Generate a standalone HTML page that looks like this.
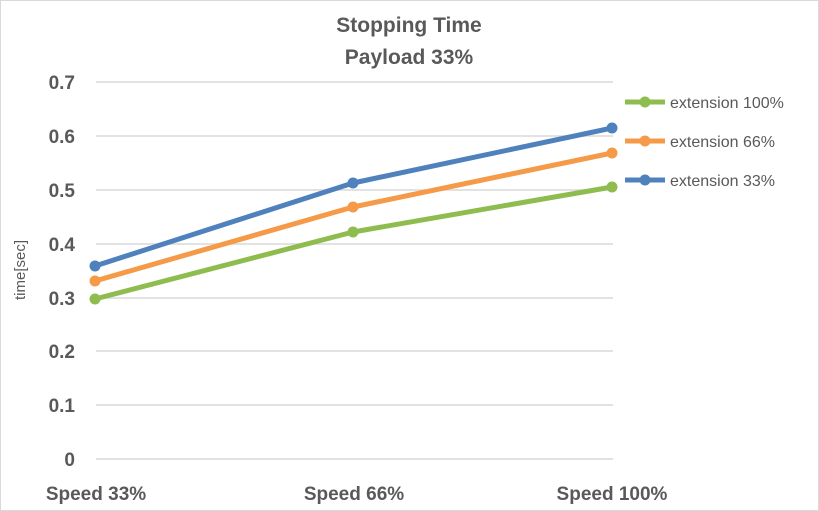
<!DOCTYPE html>
<html><head><style>
html,body{margin:0;padding:0;background:#fff}
svg{display:block}
text{font-family:"Liberation Sans",sans-serif}
</style></head><body>
<svg width="819" height="511" viewBox="0 0 819 511">
<rect x="0.5" y="0.5" width="818" height="510" fill="#fff" stroke="#d9d9d9"/>
<text x="409" y="32" text-anchor="middle" font-size="21" font-weight="bold" fill="#595959">Stopping Time</text>
<text x="409" y="64" text-anchor="middle" font-size="21" font-weight="bold" fill="#595959">Payload 33%</text>
<g stroke="#d9d9d9" stroke-width="1.5">
<line x1="96" x2="613" y1="82" y2="82"/><line x1="96" x2="613" y1="136" y2="136"/>
<line x1="96" x2="613" y1="190" y2="190"/><line x1="96" x2="613" y1="244" y2="244"/>
<line x1="96" x2="613" y1="298" y2="298"/><line x1="96" x2="613" y1="351" y2="351"/>
<line x1="96" x2="613" y1="405" y2="405"/><line x1="96" x2="613" y1="459" y2="459"/>
</g>
<g font-size="19" font-weight="bold" fill="#595959" text-anchor="end">
<text x="75" y="89">0.7</text><text x="75" y="143">0.6</text><text x="75" y="197">0.5</text>
<text x="75" y="251">0.4</text><text x="75" y="305">0.3</text><text x="75" y="358">0.2</text>
<text x="75" y="412">0.1</text><text x="75" y="466">0</text>
</g>
<text transform="translate(25,270) rotate(-90)" text-anchor="middle" font-size="15" fill="#595959">time[sec]</text>
<g font-size="19" font-weight="bold" fill="#595959" text-anchor="middle">
<text x="96" y="500">Speed 33%</text><text x="354" y="500">Speed 66%</text><text x="612" y="500">Speed 100%</text>
</g>
<g stroke-width="5" fill="none" stroke-linejoin="round">
<polyline stroke="#8fbc4f" points="95,299 353,232 612,187"/>
<polyline stroke="#f59a48" points="95,281 353,207 612,153"/>
<polyline stroke="#4f81bd" points="95,266 353,183 612,128"/>
</g>
<g fill="#8fbc4f"><circle cx="95" cy="299" r="5.5"/><circle cx="353" cy="232" r="5.5"/><circle cx="612" cy="187" r="5.5"/></g>
<g fill="#f59a48"><circle cx="95" cy="281" r="5.5"/><circle cx="353" cy="207" r="5.5"/><circle cx="612" cy="153" r="5.5"/></g>
<g fill="#4f81bd"><circle cx="95" cy="266" r="5.5"/><circle cx="353" cy="183" r="5.5"/><circle cx="612" cy="128" r="5.5"/></g>
<g stroke-width="5">
<line x1="625" x2="665" y1="102" y2="102" stroke="#8fbc4f"/>
<line x1="625" x2="665" y1="141" y2="141" stroke="#f59a48"/>
<line x1="625" x2="665" y1="180" y2="180" stroke="#4f81bd"/>
</g>
<circle cx="645" cy="102" r="5.5" fill="#8fbc4f"/>
<circle cx="645" cy="141" r="5.5" fill="#f59a48"/>
<circle cx="645" cy="180" r="5.5" fill="#4f81bd"/>
<g font-size="16" fill="#595959">
<text x="670" y="108">extension 100%</text>
<text x="670" y="147">extension 66%</text>
<text x="670" y="186">extension 33%</text>
</g>
</svg>
</body></html>
